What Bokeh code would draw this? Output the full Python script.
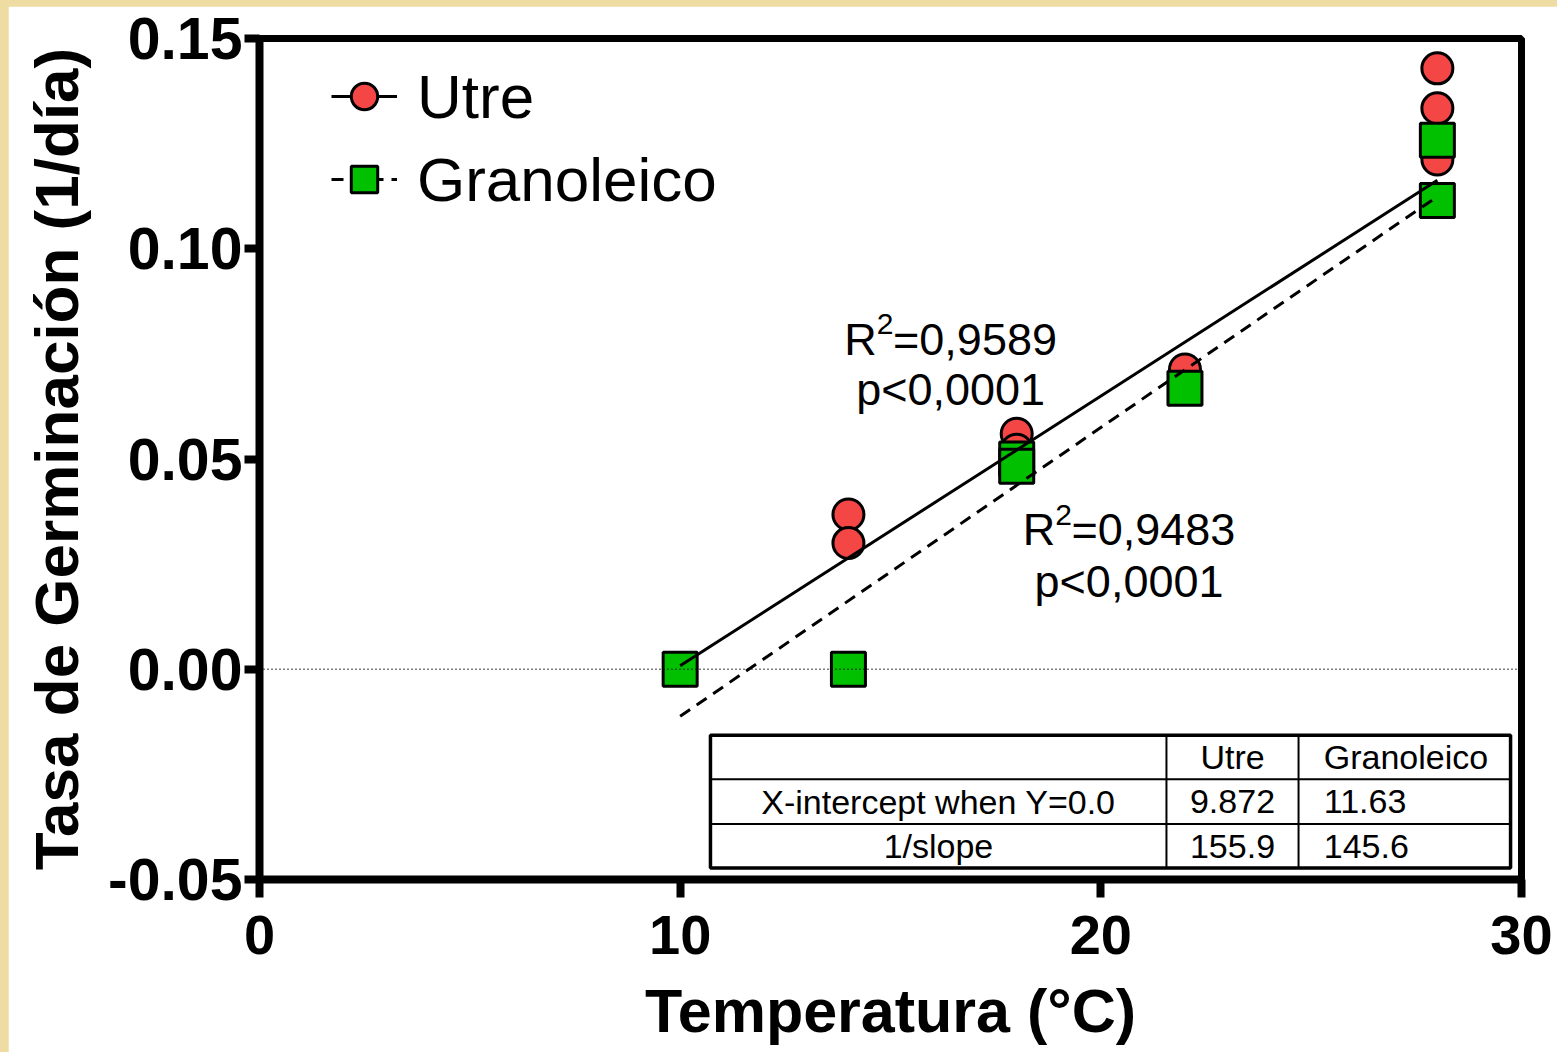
from bokeh.plotting import figure
from bokeh.models import FixedTicker, Legend, LegendItem, Span, Label, ColumnDataSource
from bokeh.layouts import column
from bokeh.embed import file_html
from bokeh.resources import INLINE
from bokeh.core.properties import value

# ---------------- data ----------------
utre_temp = [14, 14, 18, 18, 22, 28, 28, 28]
utre_rate = [0.0368, 0.0300, 0.0560, 0.0522, 0.0713, 0.1429, 0.1334, 0.1212]
gran_temp = [10, 14, 18, 18, 22, 28, 28]
gran_rate = [0.0, 0.0, 0.0500, 0.0483, 0.0668, 0.1258, 0.1115]

series_names = ["Utre", "Granoleico"]
x_intercepts = [9.872, 11.63]
inv_slopes = [155.9, 145.6]
fit_temp_range = [10, 28]
r2_values = ["=0,9589", "=0,9483"]
p_texts = ["p<0,0001", "p<0,0001"]

x_ticks = [0, 10, 20, 30]
x_tick_labels = ["0", "10", "20", "30"]
y_ticks = [-0.05, 0.0, 0.05, 0.1, 0.15]
y_tick_labels = ["-0.05", "0.00", "0.05", "0.10", "0.15"]

table_header = ["", "Utre", "Granoleico"]
table_row_labels = ["X-intercept when Y=0.0", "1/slope"]
table_utre = ["9.872", "155.9"]
table_gran = ["11.63", "145.6"]

RED = "#F54646"
GREEN = "#00C000"
FONT = "Liberation Sans"

p = figure(width=1549, height=1046, x_range=(0, 30), y_range=(-0.05, 0.15),
           output_backend="svg", toolbar_location=None,
           min_border_left=251, min_border_right=36, min_border_top=32, min_border_bottom=173)
p.margin = (6, 0, 0, 8)
p.background_fill_color = "white"
p.border_fill_color = "white"
p.xgrid.visible = False
p.ygrid.visible = False
p.outline_line_color = "black"
p.outline_line_width = 7

# axes
for ax in (p.xaxis[0], p.yaxis[0]):
    ax.axis_line_width = 8
    ax.axis_line_color = "black"
    ax.major_tick_line_width = 8
    ax.major_tick_in = 0
    ax.minor_tick_line_color = None
    ax.major_label_text_font = FONT
    ax.major_label_text_font_style = "bold"
    ax.major_label_text_color = "black"
    ax.axis_label_text_font = FONT
    ax.axis_label_text_font_style = "bold"
    ax.axis_label_text_color = "black"

p.xaxis.ticker = FixedTicker(ticks=x_ticks)
p.xaxis.major_label_overrides = dict(zip(x_ticks, x_tick_labels))
p.xaxis.major_tick_out = 18
p.xaxis.major_label_text_font_size = "56px"
p.xaxis.major_label_standoff = 18
p.xaxis.axis_label = "Temperatura (°C)"
p.xaxis.axis_label_text_font_size = "61px"
p.xaxis.axis_label_standoff = 20

p.yaxis.ticker = FixedTicker(ticks=y_ticks)
p.yaxis.major_label_overrides = dict(zip(y_ticks, y_tick_labels))
p.yaxis.major_tick_out = 15
p.yaxis.major_label_text_font_size = "59px"
p.yaxis.major_label_standoff = 2
p.yaxis.axis_label = "Tasa de Germinación (1/día)"
p.yaxis.axis_label_text_font_size = "62px"
p.yaxis.axis_label_standoff = 14

# zero reference line
p.add_layout(Span(location=0, dimension="width", line_color="black",
                  line_width=1.5, line_dash="1 3"))

# data points
utre_pts = p.scatter(utre_temp, utre_rate, marker="circle", size=31,
                     fill_color=RED, line_color="black", line_width=3)
gran_pts = p.scatter(gran_temp, gran_rate, marker="square", size=34,
                     fill_color=GREEN, line_color="black", line_width=3)

# regression lines from x-intercept and 1/slope
def fit_line(x0, inv_s):
    return [(t - x0) / inv_s for t in fit_temp_range]

utre_line = p.line(fit_temp_range, fit_line(x_intercepts[0], inv_slopes[0]),
                   line_color="black", line_width=3)
gran_line = p.line(fit_temp_range, fit_line(x_intercepts[1], inv_slopes[1]),
                   line_color="black", line_width=3, line_dash="12 8")

# legend
legend = Legend(items=[LegendItem(label=series_names[0], renderers=[utre_line, utre_pts]),
                       LegendItem(label=series_names[1], renderers=[gran_line, gran_pts])],
                location=(72, 660), orientation="vertical",
                glyph_width=66, glyph_height=80, spacing=3, padding=0, margin=0,
                label_standoff=20, label_text_font=FONT, label_text_font_size="62px",
                label_text_color="black",
                border_line_alpha=0, background_fill_alpha=0)
p.add_layout(legend)

# R^2 annotations
r2_anchor_x = [16.43, 20.67]
r2_baseline_y = [0.0784, 0.0332]
p_baseline_y = [0.0666, 0.0209]
SUP_DY = 0.0036
R_W, TWO_W = 32.5, 16.2
for i in range(2):
    eq_w = 45 * 3.642
    total = R_W + TWO_W + eq_w
    x0 = -total / 2
    p.add_layout(Label(x=r2_anchor_x[i], y=r2_baseline_y[i], text="R", x_offset=x0,
                       text_font=FONT, text_font_size="45px", text_align="left",
                       text_baseline="alphabetic", text_color="black"))
    p.add_layout(Label(x=r2_anchor_x[i], y=r2_baseline_y[i] + SUP_DY, text="2", x_offset=x0 + R_W,
                       text_font=FONT, text_font_size="30px", text_align="left",
                       text_baseline="alphabetic", text_color="black"))
    p.add_layout(Label(x=r2_anchor_x[i], y=r2_baseline_y[i], text=r2_values[i], x_offset=x0 + R_W + TWO_W,
                       text_font=FONT, text_font_size="45px", text_align="left",
                       text_baseline="alphabetic", text_color="black"))
    p.add_layout(Label(x=r2_anchor_x[i], y=p_baseline_y[i], text=p_texts[i],
                       text_font=FONT, text_font_size="45px", text_align="center",
                       text_baseline="alphabetic", text_color="black"))

# results table
tbl_x = [10.72, 21.56, 24.70, 29.74]
tbl_y = [-0.01568, -0.02614, -0.03683, -0.04729]
p.quad(left=[tbl_x[0]], right=[tbl_x[3]], top=[tbl_y[0]], bottom=[tbl_y[3]],
       fill_color="white", line_color="black", line_width=3.5)
p.segment(x0=[tbl_x[0], tbl_x[0], tbl_x[1], tbl_x[2]],
          x1=[tbl_x[3], tbl_x[3], tbl_x[1], tbl_x[2]],
          y0=[tbl_y[1], tbl_y[2], tbl_y[0], tbl_y[0]],
          y1=[tbl_y[1], tbl_y[2], tbl_y[3], tbl_y[3]],
          line_color="black", line_width=2)

row_mid = [(tbl_y[k] + tbl_y[k + 1]) / 2 for k in range(3)]
col0_mid = (tbl_x[0] + tbl_x[1]) / 2
col1_mid = (tbl_x[1] + tbl_x[2]) / 2
col2_left = tbl_x[2] + 0.6

center_src = ColumnDataSource(dict(
    x=[col1_mid, col0_mid, col0_mid, col1_mid, col1_mid],
    y=[row_mid[0], row_mid[1], row_mid[2], row_mid[1], row_mid[2]],
    t=[table_header[1], table_row_labels[0], table_row_labels[1], table_utre[0], table_utre[1]]))
left_src = ColumnDataSource(dict(
    x=[col2_left, col2_left, col2_left],
    y=[row_mid[0], row_mid[1], row_mid[2]],
    t=[table_header[2], table_gran[0], table_gran[1]]))
TFONT = value("Liberation Sans")
p.text(x="x", y="y", text="t", source=center_src, text_font=TFONT, text_font_size="34px",
       text_align="center", text_baseline="middle", text_color="black")
p.text(x="x", y="y", text="t", source=left_src, text_font=TFONT, text_font_size="34px",
       text_align="left", text_baseline="middle", text_color="black")

page = column(p, styles={"background-color": "#EEDCA2"})
open("out.html", "w").write(file_html(page, INLINE))
